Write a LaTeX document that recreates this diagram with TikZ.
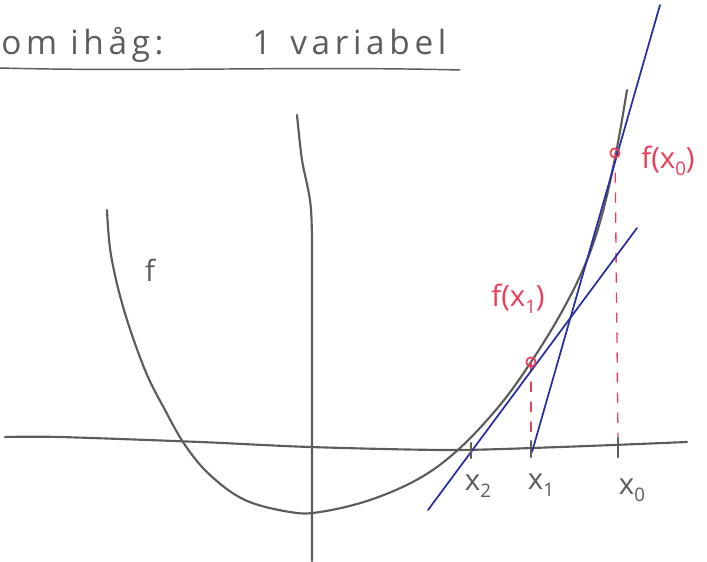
\documentclass[tikz,border=0pt]{standalone}
\usepackage{fontspec}
\setmainfont{Open Sans}
\newfontfamily\handfont[LetterSpace=14]{Open Sans}
\definecolor{pencil}{RGB}{92,92,92}
\definecolor{inkblue}{RGB}{38,48,160}
\definecolor{inkred}{RGB}{236,62,88}
\newcommand{\lowsub}[1]{\raisebox{-0.45ex}{\fontsize{14}{16}\selectfont #1}}
\begin{document}
\begin{tikzpicture}[x=0.75pt,y=-0.75pt,line cap=round,line join=round,
  pencilline/.style={draw=pencil,line width=1.6pt},
  tangentline/.style={draw=inkblue,line width=1.3pt},
  guideline/.style={draw=inkred,line width=1pt,dash pattern=on 7pt off 8pt},
  ticklinestyle/.style={draw=pencil,line width=1.6pt},
  titletext/.style={text=pencil,font=\handfont\fontsize{25}{27}\selectfont,inner sep=0pt,anchor=base west},
  graylabel/.style={text=pencil,font=\fontsize{22}{24}\selectfont,inner sep=0pt},
  redlabel/.style={text=inkred,font=\fontsize{22}{24}\selectfont,inner sep=0pt},
  reddot/.style={circle,draw=inkred,line width=1.3pt,minimum size=7pt,inner sep=0pt}]
\useasboundingbox (0,0) rectangle (707,561);

% title
\node[titletext] (t1) at (1,54) {om ihåg:};
\node[titletext] (t2) at (252,54) {1};
\node[titletext] (t3) at (290,54) {variabel};
\coordinate (ul0) at (0,68);
\coordinate (ul1) at (460,70);
\draw[pencilline,line width=1.1pt] (ul0) .. controls (150,72) and (300,66) .. (ul1);

% axes
\draw[pencilline] plot[smooth] coordinates {(5,437) (60,437) (200,442) (310,447) (450,450) (560,447) (687,442)};
\draw[pencilline] plot[smooth] coordinates {(297,115) (302,160) (311,210) (312,300) (312,561)};

% function f
\draw[pencilline] plot[smooth,tension=0.6] coordinates {(107,210) (111,255) (124,310) (145,370) (165,410) (185,445) (210,475) (245,500) (290,512) (320,512) (370,500) (420,478) (460,448) (500,405) (531,362) (560,315) (585,265) (602,215) (616,153) (627,90)};

% points
\coordinate (P1) at (531,362);
\coordinate (P0) at (615,153);
\coordinate (A0) at (532,452);
\coordinate (B0) at (660,5);
\coordinate (A1) at (428,510);
\coordinate (B1) at (637,228);

% red dashed guides
\draw[guideline] (P1) -- (531,440);
\draw[guideline] (P0) -- (618,437);

% tangents
\draw[tangentline] (A0) -- (B0);
\draw[tangentline] (A1) -- (B1);

% ticks
\draw[ticklinestyle] (471,443) -- (471,458);
\draw[ticklinestyle,line width=2pt] (531,441) -- (531,457);
\draw[ticklinestyle] (618,438) -- (618,457);

% red dots
\node[reddot] (d1) at (P1) {};
\node[reddot] (d0) at (P0) {};

% labels
\node[graylabel] (lf) at (150,270) {f};
\node[graylabel] (lx2) at (478,486) {x\lowsub{2}};
\node[graylabel] (lx1) at (541,485) {x\lowsub{1}};
\node[graylabel] (lx0) at (632,490) {x\lowsub{0}};
\node[redlabel] (lf0) at (668,161) {f(x\lowsub{0})};
\node[redlabel] (lf1) at (518,299) {f(x\lowsub{1})};
\end{tikzpicture}
\end{document}
